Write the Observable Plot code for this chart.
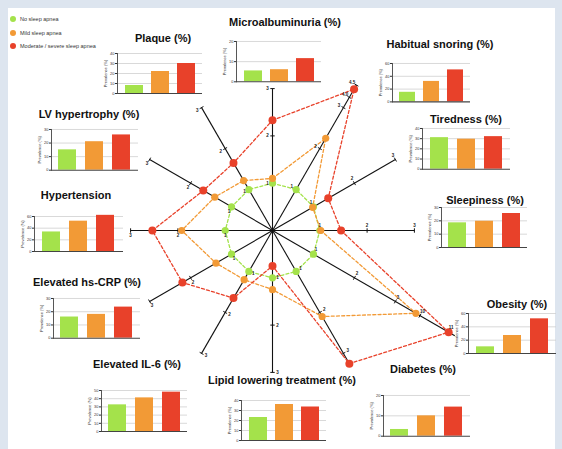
<!DOCTYPE html>
<html><head><meta charset="utf-8">
<script src="https://cdn.jsdelivr.net/npm/d3@7"></script>
<script src="https://cdn.jsdelivr.net/npm/@observablehq/plot@0.6"></script>
<style>
body{margin:0;background:#dde5ef;font-family:"Liberation Sans",Arial,sans-serif;}
#wrap{position:relative;width:562px;height:449px;overflow:hidden;}
#panel{position:absolute;left:8px;top:8px;width:547px;height:445px;background:#fff;}
.title{position:absolute;font-weight:bold;font-size:11px;line-height:11px;white-space:nowrap;transform:translateX(-50%);color:#111;}
.leg{position:absolute;font-size:5.5px;line-height:6px;color:#333;white-space:nowrap;}
.legdot{position:absolute;width:6px;height:6px;border-radius:50%;}
</style></head><body><div id="wrap"><div id="panel"></div></div>
<script>
// ---- data ----
const groups = ["No sleep apnea", "Mild sleep apnea", "Moderate / severe sleep apnea"];
const colors = ["#a4e24b", "#f29a36", "#e8412a"];
const outcomes = ["Microalbuminuria (%)", "Habitual snoring (%)", "Tiredness (%)", "Sleepiness (%)",
  "Obesity (%)", "Diabetes (%)", "Lipid lowering treatment (%)", "Elevated IL-6 (%)",
  "Elevated hs-CRP (%)", "Hypertension", "LV hypertrophy (%)", "Plaque (%)"];
// prevalence (%) shown in the small bar charts
const prevNone   = [5.4, 15, 31,   18.5, 10, 3.3, 23,   32.5, 16, 33.5, 15, 8];
const prevMild   = [6,   32, 29.5, 19.7, 27, 10,  36,   41,   18, 52,   21, 22];
const prevSevere = [11.5,50, 32,   25.5, 52, 14.3,33.5, 48,   23.5, 62, 26, 30];
const yTicks = [[0,10,20],[0,20,40,60],[0,10,20,30,40],[0,10,20,30],[0,20,40,60],[0,10,20],
  [0,10,20,30,40],[0,10,20,30,40,50],[0,10,20,30],[0,20,40,60],[0,10,20,30],[0,10,20,30,40]];
// radar values (position along each spoke, spoke units)
const radarNone   = [1, 1, 1, 1, 1, 1, 1, 1, 1, 1, 1, 1];
const radarMild   = [1.1, 2.25, 0.98, 1.02, 3.5, 2.1, 1.25, 1.2, 1.38, 1.92, 1.41, 1.22];
const radarSevere = [2.33, 3.45, 1.36, 1.45, 4.3, 3.25, 0.75, 1.65, 2.2, 2.54, 1.69, 1.65];
// spoke tick labels and where they sit on the spoke
const spokeLabels = [["1","2","3"],["1","2","3","4.0","4.5"],["1","2","3"],["1","2","3"],["1","2","3","10","11"],
  ["1","2","3"],["1","2","3"],["1","2","3"],["1","2","3"],["1","2","3"],["1","2","3"],["1","2","3"]];
const spokeTickPos = [[1,2,3],[1,2,3,3.25,3.55],[1,2,3],[1,2,3],[1,2,3,3.6,4.3],
  [1,2,3],[1,2,3],[1,2,3],[1,2,3],[1,2,3],[1,2,3],[1,2,3]];
const spokeLength = [3, 3.55, 3, 3, 4.45, 3.3, 3, 3, 3, 3, 3, 3];

// ---- layout (pixels) ----
const W = 562, H = 449, CX = 272, CY = 230, U = 47.3;
// [axisX, topTickY, baselineY, rightX, titleCenterX, titleBaselineY]
const layout = [
  [236, 40.7, 81, 321, 285, 26],
  [392, 63.3, 101.7, 470, 440, 48],
  [422, 128.3, 169, 510, 466, 123],
  [441, 207.3, 247.3, 527, 485, 204.7],
  [468, 313.3, 353.3, 556, 517, 308],
  [383, 395, 435.7, 470, 423, 373],
  [241, 400, 440, 326, 282, 384.7],
  [101, 390, 431, 187, 137, 368],
  [53, 298.3, 338, 140, 87, 286],
  [34, 215.7, 250.7, 123, 76, 199.7],
  [51, 129, 169.7, 138, 89, 118],
  [117, 52.7, 92.7, 202, 163, 42]
];

const wrap = document.getElementById("wrap");
const ang = i => (90 - 30 * i) * Math.PI / 180;
const pt = (i, r) => ({x: r * Math.cos(ang(i)), y: r * Math.sin(ang(i))});

// ---- radar ----
const spokes = outcomes.map((o, i) => pt(i, spokeLength[i]));
const ticks = [];
outcomes.forEach((o, i) => {
  spokeTickPos[i].forEach((p, k) => {
    const a = ang(i), px = -Math.sin(a), py = Math.cos(a); // CCW perpendicular
    const c = pt(i, p), h = 2.2 / U;
    ticks.push({
      x1: c.x - px * h, y1: c.y - py * h, x2: c.x + px * h, y2: c.y + py * h,
      lx: c.x + px * 5 / U, ly: c.y + py * 5 / U, label: spokeLabels[i][k]
    });
  });
});
const seriesMarks = [];
[radarNone, radarMild, radarSevere].forEach((vals, s) => {
  const pts = vals.map((v, i) => pt(i, v));
  seriesMarks.push(Plot.line([...pts, pts[0]], {x: "x", y: "y", stroke: colors[s], strokeWidth: 1.3, strokeDasharray: "3 2.2"}));
});
[radarNone, radarMild, radarSevere].forEach((vals, s) => {
  const pts = vals.map((v, i) => pt(i, v));
  seriesMarks.push(Plot.dot(pts, {x: "x", y: "y", fill: colors[s], r: s === 2 ? 4 : 3.6}));
});
const radar = Plot.plot({
  width: W, height: H, margin: 0,
  x: {domain: [-CX / U, (W - CX) / U], axis: null},
  y: {domain: [-(H - CY) / U, CY / U], axis: null},
  style: {background: "transparent", overflow: "visible", fontFamily: "Liberation Sans, Arial"},
  marks: [
    Plot.link(spokes, {x1: 0, y1: 0, x2: "x", y2: "y", stroke: "#111", strokeWidth: 1.1}),
    Plot.link(ticks, {x1: "x1", y1: "y1", x2: "x2", y2: "y2", stroke: "#111", strokeWidth: 1}),
    ...seriesMarks,
    Plot.text(ticks, {x: "lx", y: "ly", text: "label", fontSize: 4.5, fontWeight: "bold", fill: "#222"})
  ]
});
radar.style.position = "absolute"; radar.style.left = "0px"; radar.style.top = "0px";
wrap.appendChild(radar);

// ---- small bar charts ----
outcomes.forEach((o, i) => {
  const [ax, top, base, right, tx, tb] = layout[i];
  const t = yTicks[i];
  const data = groups.map((g, k) => ({g, v: [prevNone, prevMild, prevSevere][k][i]}));
  const ml = 18, mr = 2, mt = 4, mb = 3;
  const svg = Plot.plot({
    width: (right - ax) + ml + mr, height: (base - top) + mt + mb,
    marginLeft: ml, marginRight: mr, marginTop: mt, marginBottom: mb,
    style: {background: "transparent", overflow: "visible", fontFamily: "Liberation Sans, Arial", fontSize: "4px"},
    x: {domain: groups, axis: null, paddingInner: 0.32, paddingOuter: 0.25},
    y: {domain: [0, t[t.length - 1]], axis: null},
    color: {domain: groups, range: colors},
    marks: [
      Plot.ruleY(t.slice(1), {stroke: "#cfcfcf", strokeWidth: 0.8}),
      Plot.barY(data, {x: "g", y: "v", fill: "g"}),
      Plot.axisY({ticks: t, tickSize: 2, tickPadding: 1, fontSize: 4, label: "Prevalence (%)", labelAnchor: "center", labelArrow: false, labelOffset: 13, color: "#333"}),
      Plot.ruleY([0], {stroke: "#444", strokeWidth: 1.1}),
      Plot.frame({anchor: "left", stroke: "#444", strokeWidth: 0.9})
    ]
  });
  svg.style.position = "absolute";
  svg.style.left = (ax - ml) + "px";
  svg.style.top = (top - mt) + "px";
  wrap.appendChild(svg);
  const d = document.createElement("div");
  d.className = "title";
  d.textContent = o;
  d.style.left = tx + "px";
  d.style.top = (tb - 9.3) + "px";
  wrap.appendChild(d);
});

// ---- legend ----
groups.forEach((g, k) => {
  const y = 19 + k * 13.5;
  const dot = document.createElement("div");
  dot.className = "legdot"; dot.style.background = colors[k];
  dot.style.left = "9.5px"; dot.style.top = (y - 3) + "px";
  wrap.appendChild(dot);
  const t = document.createElement("div");
  t.className = "leg"; t.textContent = g;
  t.style.left = "20px"; t.style.top = (y - 3) + "px";
  wrap.appendChild(t);
});
</script></body></html>
